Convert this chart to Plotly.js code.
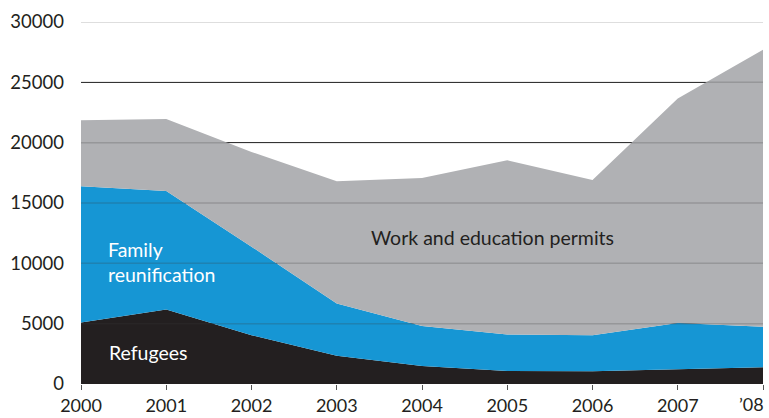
<!DOCTYPE html>
<html>
<head>
<meta charset="utf-8">
<script src="https://cdn.plot.ly/plotly-3.0.1.min.js"></script>
<style>
  html, body { margin: 0; padding: 0; background: #fff; }
  #chart { width: 769px; height: 418px; }
</style>
</head>
<body>
<div id="chart"></div>
<script>
// Data
var years = [2000, 2001, 2002, 2003, 2004, 2005, 2006, 2007, 2008];
var yearLabels = ['2000', '2001', '2002', '2003', '2004', '2005', '2006', '2007', '\u201908'];
var refugees = [5100, 6180, 4050, 2340, 1490, 1080, 1060, 1215, 1380];
var familyReunification = [11290, 9820, 7330, 4340, 3310, 3030, 2970, 3835, 3360];
var workEducation = [5460, 5960, 7850, 10120, 12280, 14430, 12880, 18600, 22960];
var yTicks = [0, 5000, 10000, 15000, 20000, 25000, 30000];
var yTickLabels = ['0', '5000', '10000', '15000', '20000', '25000', '30000'];

var FONT = 'Lato, "Open Sans", sans-serif';
var INK = '#231f20';

var traces = [
  {
    x: years, y: refugees, name: 'Refugees', type: 'scatter', mode: 'lines',
    stackgroup: 'one', line: {width: 0, color: '#231f20'}, fillcolor: '#231f20',
    hoverinfo: 'skip'
  },
  {
    x: years, y: familyReunification, name: 'Family reunification', type: 'scatter', mode: 'lines',
    stackgroup: 'one', line: {width: 0, color: '#1696d4'}, fillcolor: '#1696d4',
    hoverinfo: 'skip'
  },
  {
    x: years, y: workEducation, name: 'Work and education permits', type: 'scatter', mode: 'lines',
    stackgroup: 'one', line: {width: 0, color: '#b0b1b4'}, fillcolor: '#b0b1b4',
    hoverinfo: 'skip'
  }
];

// faint gridline overlay visible through the filled areas
var shapes = yTicks.filter(function (v) { return v > 0; }).map(function (v) {
  return {
    type: 'line', xref: 'paper', x0: 0, x1: 1, yref: 'y', y0: v, y1: v,
    layer: 'above', line: {color: 'rgba(60,60,60,0.22)', width: 1.5}
  };
});

// tick labels: all but the last drawn by the axis; the last one is right-aligned
// at the plot edge so that it stays inside the page
var lastIdx = years.length - 1;
var axisLabels = yearLabels.map(function (t, i) { return i === lastIdx ? '' : t; });

var layout = {
  width: 769, height: 418,
  margin: {l: 81, r: 6, t: 22, b: 34, pad: 0},
  paper_bgcolor: '#ffffff', plot_bgcolor: '#ffffff',
  showlegend: false,
  font: {family: FONT, color: INK, size: 18},
  xaxis: {
    range: [2000, 2008],
    tickmode: 'array', tickvals: years, ticktext: axisLabels,
    ticks: 'outside', ticklen: 5, tickwidth: 1, tickcolor: '#555',
    ticklabelstandoff: 0,
    showgrid: false, zeroline: false, showline: false,
    tickfont: {family: FONT, size: 18, color: INK},
    fixedrange: true
  },
  yaxis: {
    range: [0, 30000],
    tickmode: 'array', tickvals: yTicks, ticktext: yTickLabels,
    ticks: '', ticklabelstandoff: 16,
    showgrid: true, gridcolor: '#333333', gridwidth: 1,
    zeroline: false, showline: false,
    tickfont: {family: FONT, size: 18.5, color: INK},
    fixedrange: true
  },
  shapes: shapes,
  annotations: [
    {
      x: years[lastIdx], y: 0, xref: 'x', yref: 'paper',
      text: yearLabels[lastIdx], showarrow: false,
      font: {family: FONT, size: 18, color: INK},
      xanchor: 'right', yanchor: 'top', xshift: 3, yshift: -7
    },
    {
      x: 2004.83, y: 12100, xref: 'x', yref: 'y',
      text: 'Work and education permits', showarrow: false,
      font: {family: FONT, size: 19.5, color: INK}, xanchor: 'center', yanchor: 'middle'
    },
    {
      x: 2000.29, y: 10100, xref: 'x', yref: 'y',
      text: 'Family<br>reunification', showarrow: false, align: 'left',
      font: {family: FONT, size: 19.5, color: '#ffffff'}, xanchor: 'left', yanchor: 'middle'
    },
    {
      x: 2000.3, y: 2650, xref: 'x', yref: 'y',
      text: 'Refugees', showarrow: false,
      font: {family: FONT, size: 19.5, color: '#ffffff'}, xanchor: 'left', yanchor: 'middle'
    }
  ]
};

Plotly.newPlot('chart', traces, layout, {displayModeBar: false, staticPlot: true});
</script>
</body>
</html>
